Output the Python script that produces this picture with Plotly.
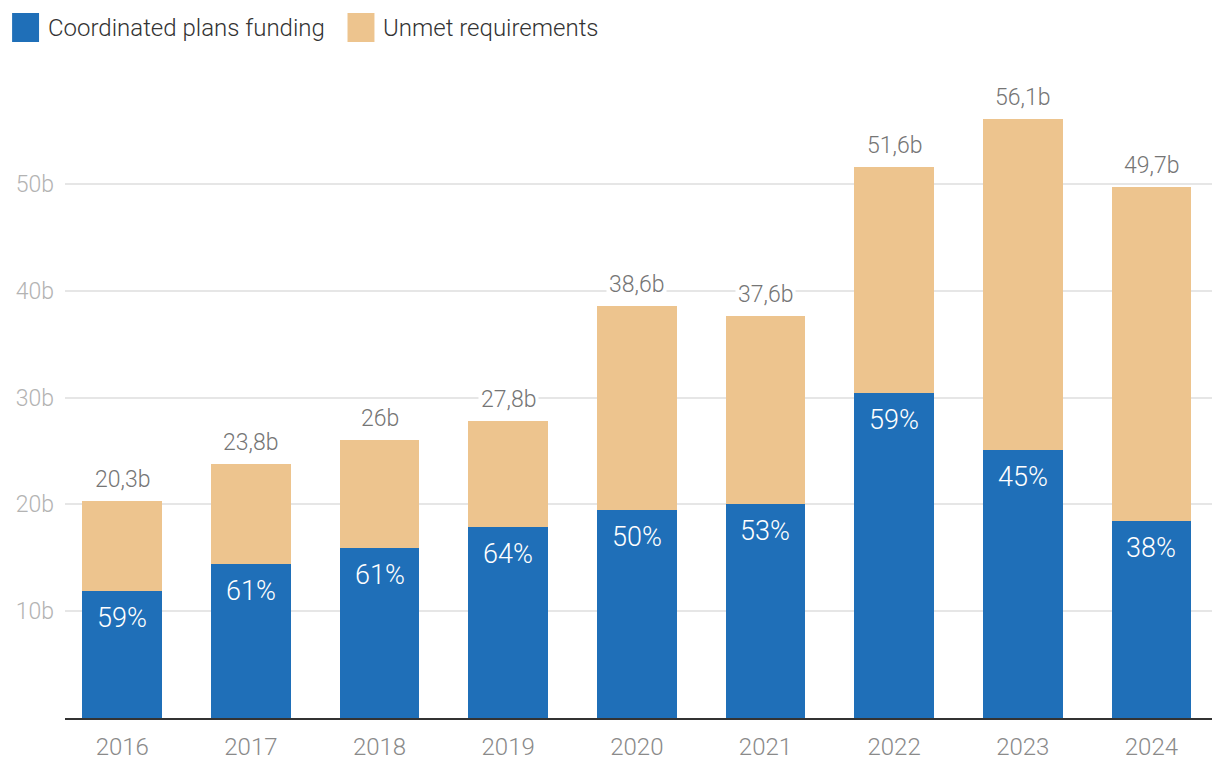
import plotly.graph_objects as go

years = ["2016", "2017", "2018", "2019", "2020", "2021", "2022", "2023", "2024"]
funding = [11.9, 14.4, 15.9, 17.9, 19.5, 20.0, 30.4, 25.1, 18.4]
totals = [20.3, 23.8, 26.0, 27.8, 38.6, 37.6, 51.6, 56.1, 49.7]
pct_labels = ["59%", "61%", "61%", "64%", "50%", "53%", "59%", "45%", "38%"]
total_labels = ["20,3b", "23,8b", "26b", "27,8b", "38,6b", "37,6b", "51,6b", "56,1b", "49,7b"]
ytick_vals = [10, 20, 30, 40, 50]
ytick_text = ["10b", "20b", "30b", "40b", "50b"]
series_names = ["Coordinated plans funding", "Unmet requirements"]

unmet = [round(t - f, 2) for t, f in zip(totals, funding)]

BLUE = "#1f6fb8"
ORANGE = "#edc48e"
FONT = "Roboto"
WT = 300

OFF = 8  # browser body margin
W, H = 1220 - OFF, 778 - OFF
L, R, T, B = 63 - OFF, 1212 - OFF, 77 - OFF, 718 - OFF


def px(x):
    return (x - OFF - L) / (R - L)


def py(y):
    return (B - (y - OFF)) / (B - T)


fig = go.Figure()
fig.add_trace(go.Bar(x=years, y=funding, name=series_names[0], marker_color=BLUE,
                     marker_line_width=0, hoverinfo="x+y"))
fig.add_trace(go.Bar(x=years, y=unmet, name=series_names[1], marker_color=ORANGE,
                     marker_line_width=0, hoverinfo="x+y"))

annotations = []
for i, (f, t, p, tl) in enumerate(zip(funding, totals, pct_labels, total_labels)):
    annotations.append(dict(x=i, y=f, text=p, showarrow=False, yanchor="middle",
                            yshift=-27, font=dict(family=FONT, size=27, color="white", weight=WT)))
    annotations.append(dict(x=i, y=t, text=tl, showarrow=False, yanchor="bottom",
                            yshift=5, bgcolor="white", borderpad=2,
                            font=dict(family=FONT, size=23, color="#757575", weight=WT)))

# manual legend
shapes = []
legend_items = [(10, 37, 44, series_names[0], BLUE), (346, 373, 380, series_names[1], ORANGE)]
for x0, x1, tx, name, col in legend_items:
    shapes.append(dict(type="rect", xref="paper", yref="paper", x0=px(x0), x1=px(x1),
                       y0=py(42), y1=py(13), fillcolor=col, line_width=0))
    annotations.append(dict(xref="paper", yref="paper", x=px(tx), y=py(28), text=name,
                            showarrow=False, xanchor="left", yanchor="middle",
                            font=dict(family=FONT, size=24, color="#333333", weight=WT)))

fig.update_layout(
    width=W, height=H,
    barmode="stack", bargap=0.38,
    showlegend=False,
    plot_bgcolor="white", paper_bgcolor="white",
    margin=dict(l=L, r=W - R, t=T, b=H - B),
    font=dict(family=FONT, weight=WT),
    annotations=annotations,
    shapes=shapes,
    xaxis=dict(range=[-0.445, 8.471], showline=True, linecolor="#333333", linewidth=2,
               showgrid=False, ticks="", tickfont=dict(family=FONT, size=24, color="#8a8a8a", weight=WT),
               ticklabelstandoff=6),
    yaxis=dict(range=[0, 60], tickvals=ytick_vals, ticktext=ytick_text,
               showgrid=True, gridcolor="#e6e6e6", gridwidth=2, zeroline=False,
               ticks="", tickfont=dict(family=FONT, size=23, color="#b3b3b3", weight=WT),
               ticklabelstandoff=10),
)

fig.write_html("out.html")
